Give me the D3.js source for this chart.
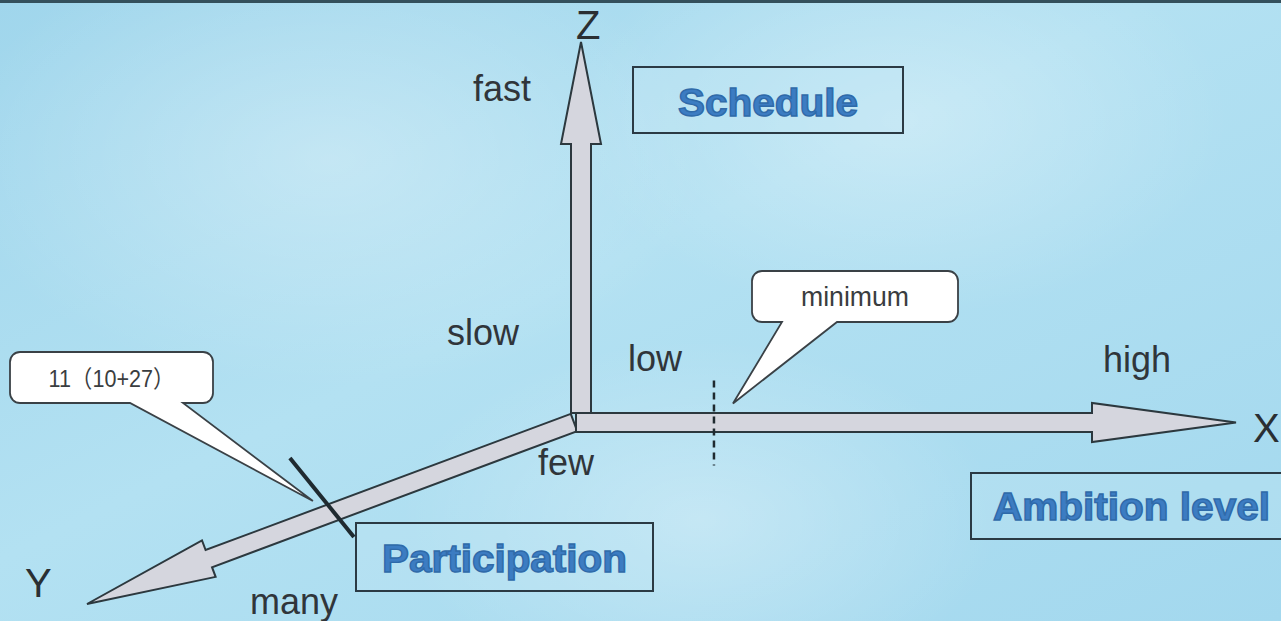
<!DOCTYPE html>
<html>
<head>
<meta charset="utf-8">
<script src="https://cdn.jsdelivr.net/npm/d3@7"></script>
<style>
	html, body { margin: 0; padding: 0; overflow: hidden; background: #a9dbef; }
	text { font-family: "Liberation Sans", Arial, "Noto Sans CJK SC", sans-serif; }
</style>
</head>
<body>
<div id="chart-area"></div>
<script>
/*
	three axes diagram: ambition level (X), participation (Y), schedule (Z)
*/

// axis names and their low / high end words
var axis_names = ["X", "Y", "Z"];
var axis_low = ["low", "few", "slow"];
var axis_high = ["high", "many", "fast"];
var axis_titles = ["Ambition level", "Participation", "Schedule"];

// marks placed on the axes (0 = origin, 1 = arrow tip)
var marker_axes = ["X", "Y"];
var marker_values = [0.203, 0.493];
var marker_notes = ["minimum", "11\uFF0810+27\uFF09"];

var width = 1281;
var height = 621;

var svg = d3.select("#chart-area").append("svg")
	.attr("width", width)
	.attr("height", height);

// background
var defs = svg.append("defs");
var bg = defs.append("linearGradient").attr("id", "bg")
	.attr("x1", 0).attr("y1", 0).attr("x2", 1).attr("y2", 1);
bg.append("stop").attr("offset", "0%").attr("stop-color", "#a0d6ec");
bg.append("stop").attr("offset", "45%").attr("stop-color", "#b3e1f2");
bg.append("stop").attr("offset", "100%").attr("stop-color", "#a3d8ee");

var glow = defs.append("radialGradient").attr("id", "glow");
glow.append("stop").attr("offset", "0%").attr("stop-color", "#ffffff").attr("stop-opacity", 0.3);
glow.append("stop").attr("offset", "100%").attr("stop-color", "#ffffff").attr("stop-opacity", 0);

svg.append("rect")
	.attr("width", width).attr("height", height)
	.style("fill", "url(#bg)");

[[330, 160, 380], [900, 120, 330], [700, 520, 300]].forEach(function(g){
	svg.append("ellipse")
		.attr("cx", g[0]).attr("cy", g[1])
		.attr("rx", g[2]).attr("ry", g[2] * 0.6)
		.style("fill", "url(#glow)");
});

svg.append("rect")
	.attr("width", width).attr("height", 3)
	.style("fill", "#34505c");

// pseudo 3d projection: each axis is a scale from value to a screen point
var origin = [581, 422.5];
var axis_scales = {
	X: d3.scaleLinear().domain([0, 1]).range([origin, [1236, 422.5]]),
	Y: d3.scaleLinear().domain([0, 1]).range([[574, 422.5], [87, 604]]),
	Z: d3.scaleLinear().domain([0, 1]).range([[581, 413], [581, 42]])
};

// the interpolator reuses its output array, so copy it
function pt(name, v){
	return axis_scales[name](v).slice();
}

var arrow_style = {
	X: { shaft: 9.5, head: 144, wing: 19.5 },
	Y: { shaft: 9.2, head: 130, wing: 19.5 },
	Z: { shaft: 10, head: 102, wing: 20 }
};

function arrowPoints(name){
	var st = arrow_style[name];
	var p0 = pt(name, 0), p1 = pt(name, 1);
	var dx = p1[0] - p0[0], dy = p1[1] - p0[1];
	var len = Math.sqrt(dx * dx + dy * dy);
	var ux = dx / len, uy = dy / len;
	var nx = -uy, ny = ux;
	var bx = p1[0] - ux * st.head, by = p1[1] - uy * st.head;
	if (name == "X") { p0 = [576, p0[1]]; }
	return [
		[p0[0] + nx * st.shaft, p0[1] + ny * st.shaft],
		[bx + nx * st.shaft, by + ny * st.shaft],
		[bx + nx * st.wing, by + ny * st.wing],
		p1,
		[bx - nx * st.wing, by - ny * st.wing],
		[bx - nx * st.shaft, by - ny * st.shaft],
		[p0[0] - nx * st.shaft, p0[1] - ny * st.shaft]
	];
}

var line = d3.line().curve(d3.curveLinearClosed);

svg.selectAll("path.arrow")
	.data(["Y", "X", "Z"])
	.enter()
	.append("path")
		.attr("class", "arrow")
		.attr("d", function(d){ return line(arrowPoints(d)); })
		.style("fill", "#d5d6de")
		.style("stroke", "#2c383e")
		.style("stroke-width", 2)
		.style("stroke-linejoin", "miter");

// axis letters
var letter_pos = { X: [1253, 442], Y: [25, 597], Z: [576, 39] };
svg.selectAll("text.axis-name")
	.data(axis_names)
	.enter()
	.append("text")
		.attr("class", "axis-name")
		.attr("x", function(d){ return letter_pos[d][0]; })
		.attr("y", function(d){ return letter_pos[d][1]; })
		.style("font-size", "40px")
		.style("fill", "#2a2f33")
		.text(function(d){ return d; });

// low / high words
var low_pos = { X: [628, 371], Y: [538, 475], Z: [447, 345] };
var high_pos = { X: [1103, 372], Y: [250, 614], Z: [473, 101] };

axis_names.forEach(function(a, i){
	svg.append("text")
		.attr("x", low_pos[a][0]).attr("y", low_pos[a][1])
		.style("font-size", "36px").style("fill", "#30353a")
		.text(axis_low[i]);
	svg.append("text")
		.attr("x", high_pos[a][0]).attr("y", high_pos[a][1])
		.style("font-size", "36px").style("fill", "#30353a")
		.text(axis_high[i]);
});

// title boxes
var title_boxes = [
	{ x: 971, y: 473, w: 330, h: 66, tx: 993, ty: 520, len: 277 },
	{ x: 356, y: 523, w: 297, h: 68, tx: 382, ty: 572, len: 245 },
	{ x: 633, y: 67, w: 270, h: 66, tx: 678, ty: 116, len: 180 }
];

axis_titles.forEach(function(t, i){
	var b = title_boxes[i];
	svg.append("rect")
		.attr("x", b.x).attr("y", b.y)
		.attr("width", b.w).attr("height", b.h)
		.style("fill", "#bfe6f4").style("fill-opacity", 0.35)
		.style("stroke", "#2b3a44").style("stroke-width", 2);
	svg.append("text")
		.attr("x", b.tx).attr("y", b.ty)
		.attr("textLength", b.len)
		.attr("lengthAdjust", "spacingAndGlyphs")
		.style("font-size", "38px").style("font-weight", "bold")
		.style("fill", "#3c7cc2")
		.style("stroke", "#2f6aa9").style("stroke-width", 1.4)
		.text(t);
});

// markers on the axes
var marker_style = {
	X: { up: [0, -42], down: [0, 43], dash: "7,5", w: 2.5 },
	Y: { up: [-44, -54], down: [20, 25], dash: null, w: 4 }
};

// callouts
var callout_boxes = [
	{ x: 752, y: 271, w: 206, h: 51, b1: 782, b2: 837, tip: [19, -19], fs: 27, len: 108 },
	{ x: 10, y: 352, w: 203, h: 51, b1: 130, b2: 183, tip: [-21, -11], fs: 24, len: 126 }
];

function calloutPath(b, tip){
	var r = 10;
	var p = d3.path();
	p.moveTo(b.x + r, b.y);
	p.lineTo(b.x + b.w - r, b.y);
	p.arcTo(b.x + b.w, b.y, b.x + b.w, b.y + r, r);
	p.lineTo(b.x + b.w, b.y + b.h - r);
	p.arcTo(b.x + b.w, b.y + b.h, b.x + b.w - r, b.y + b.h, r);
	p.lineTo(b.b2, b.y + b.h);
	p.lineTo(tip[0], tip[1]);
	p.lineTo(b.b1, b.y + b.h);
	p.lineTo(b.x + r, b.y + b.h);
	p.arcTo(b.x, b.y + b.h, b.x, b.y + b.h - r, r);
	p.lineTo(b.x, b.y + r);
	p.arcTo(b.x, b.y, b.x + r, b.y, r);
	p.closePath();
	return p.toString();
}

marker_axes.forEach(function(a, i){
	var p = pt(a, marker_values[i]);
	var ms = marker_style[a];
	svg.append("line")
		.attr("x1", p[0] + ms.up[0]).attr("y1", p[1] + ms.up[1])
		.attr("x2", p[0] + ms.down[0]).attr("y2", p[1] + ms.down[1])
		.style("stroke", "#1f2a30")
		.style("stroke-width", ms.w)
		.style("stroke-dasharray", ms.dash);

	var b = callout_boxes[i];
	var tip = [p[0] + b.tip[0], p[1] + b.tip[1]];
	svg.append("path")
		.attr("d", calloutPath(b, tip))
		.style("fill", "#ffffff")
		.style("stroke", "#3a4146")
		.style("stroke-width", 1.8);
	svg.append("text")
		.attr("x", b.x + b.w / 2).attr("y", b.y + b.h / 2 + 9)
		.attr("text-anchor", "middle")
		.attr("textLength", b.len)
		.attr("lengthAdjust", "spacingAndGlyphs")
		.style("font-size", b.fs + "px").style("fill", "#3a3d40")
		.text(marker_notes[i]);
});
</script>
</body>
</html>
